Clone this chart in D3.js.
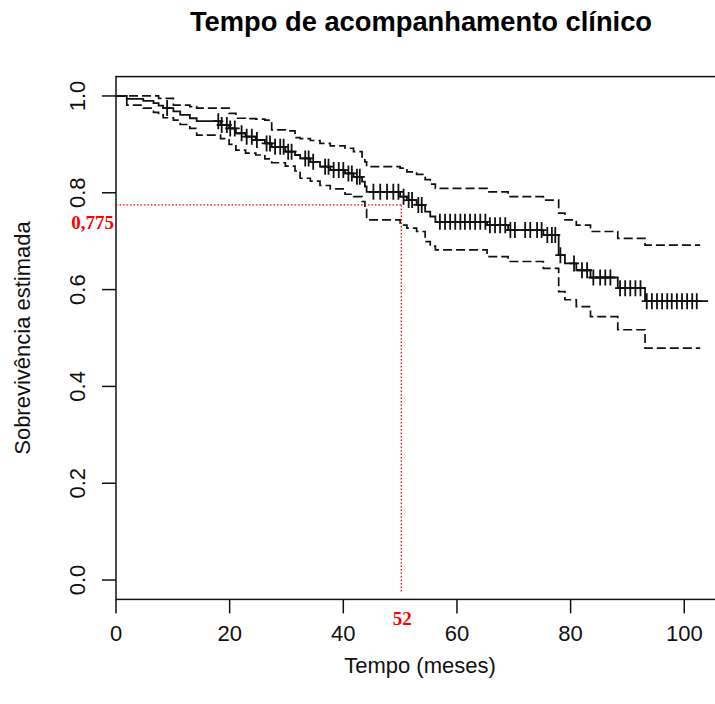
<!DOCTYPE html>
<html lang="pt">
<head>
<meta charset="utf-8">
<title>Tempo de acompanhamento clínico</title>
<script src="https://d3js.org/d3.v7.min.js"></script>
<style>
  body { margin: 0; background: #fff; }
  svg { display: block; }
  .axis-text { font-family: "Liberation Sans", Arial, sans-serif; font-size: 22px; fill: #111; }
  .title { font-family: "Liberation Sans", Arial, sans-serif; font-size: 27.3px; font-weight: bold; fill: #000; }
  .annot { font-family: "Liberation Serif", "Times New Roman", serif; font-size: 19px; font-weight: bold; fill: #f00; }
</style>
</head>
<body>
<div id="chart"></div>
<script>
// Kaplan-Meier steps (months, survival)
var eventTimes = [0, 1.9, 4.8, 6.6, 7.5, 8.3, 10.1, 11.3, 13.0, 14.2, 18.4, 19.9, 21.1, 22.8, 24.6, 26.2, 27.4, 29.8,
  31.5, 32.4, 34.2, 35.9, 37.7, 40.3, 41.8, 43.3, 43.8, 44.1, 50.0, 51.2, 52.9, 54.4, 55.3, 56.2, 65.3, 69.0,
  75.2, 77.9, 79.0, 81.0, 83.5, 88.3, 93.1];
var survival = [1.0, 0.994, 0.990, 0.985, 0.980, 0.975, 0.968, 0.961, 0.954, 0.948, 0.940, 0.933, 0.923, 0.916,
  0.909, 0.902, 0.895, 0.885, 0.878, 0.871, 0.864, 0.854, 0.847, 0.840, 0.833, 0.823, 0.813, 0.802, 0.792,
  0.785, 0.775, 0.761, 0.751, 0.740, 0.733, 0.723, 0.713, 0.671, 0.654, 0.640, 0.625, 0.603, 0.576];
var upperCI = [1.0, 1.0, 1.0, 1.0, 0.995, 0.995, 0.981, 0.981, 0.978, 0.975, 0.975, 0.964, 0.954, 0.953, 0.952,
  0.950, 0.930, 0.928, 0.914, 0.912, 0.908, 0.902, 0.897, 0.892, 0.885, 0.874, 0.864, 0.854, 0.851, 0.843,
  0.838, 0.827, 0.818, 0.809, 0.802, 0.792, 0.785, 0.758, 0.744, 0.733, 0.720, 0.706, 0.692];
var lowerCI = [1.0, 0.981, 0.975, 0.966, 0.961, 0.955, 0.950, 0.941, 0.933, 0.919, 0.912, 0.900, 0.888, 0.882,
  0.878, 0.870, 0.862, 0.855, 0.845, 0.830, 0.824, 0.815, 0.808, 0.797, 0.792, 0.782, 0.765, 0.744, 0.733,
  0.727, 0.720, 0.699, 0.690, 0.682, 0.668, 0.658, 0.644, 0.596, 0.579, 0.565, 0.544, 0.517, 0.479];
var lastTime = 104.2;
var ciLastTime = 102.8;

// censored observations (months)
var censorTimes = [9.0, 18.0, 18.6, 19.5, 20.1, 20.9, 22.1, 23.0, 23.9, 24.8, 26.5, 27.1, 28.0, 28.9, 29.5,
  30.3, 30.9, 33.3, 33.9, 34.7, 36.8, 37.4, 38.3, 39.2, 40.0, 40.9, 41.5, 42.4, 42.9, 45.3, 46.5, 47.7,
  48.8, 49.7, 50.6, 51.5, 52.1, 53.2, 53.8, 57.0, 57.9, 58.8, 59.7, 60.6, 61.4, 62.3, 63.2, 64.1, 65.0,
  65.8, 66.7, 67.6, 68.5, 69.4, 70.2, 72.0, 72.9, 74.1, 74.9, 75.9, 76.7, 77.3, 78.2, 80.6, 82.0, 82.9,
  84.0, 85.2, 86.1, 87.0, 88.7, 89.6, 90.5, 91.4, 92.3, 93.4, 94.3, 95.2, 96.1, 97.0, 97.8, 98.7, 99.6,
  100.5, 101.4, 102.2];

var xTicks = [0, 20, 40, 60, 80, 100];
var yTicks = [0.0, 0.2, 0.4, 0.6, 0.8, 1.0];

// red annotation
var medianTime = 50.2, medianSurv = 0.775;
var medianTimeLabel = "52", medianSurvLabel = "0,775";

var W = 715, H = 704;
var box = {left: 116, right: 732, top: 76.6, bottom: 599.4};

var svg = d3.select("#chart").append("svg")
  .attr("width", W).attr("height", H);

var x = d3.scaleLinear().domain([0, 108.4]).range([box.left, box.right]);
var y = d3.scaleLinear().domain([-0.04, 1.04]).range([box.bottom, box.top]);

// title
svg.append("text").attr("class", "title")
  .attr("x", (box.left + box.right) / 2 - 3).attr("y", 31)
  .attr("text-anchor", "middle")
  .text("Tempo de acompanhamento clínico");

// box
svg.append("rect")
  .attr("x", box.left).attr("y", box.top)
  .attr("width", box.right - box.left).attr("height", box.bottom - box.top)
  .attr("fill", "none").attr("stroke", "#111").attr("stroke-width", 1.5);

// x axis
var xAxis = svg.append("g");
xAxis.selectAll("line").data(xTicks).enter().append("line")
  .attr("x1", function(d) { return x(d); }).attr("x2", function(d) { return x(d); })
  .attr("y1", box.bottom).attr("y2", box.bottom + 14)
  .attr("stroke", "#111").attr("stroke-width", 1.5);
xAxis.selectAll("text").data(xTicks).enter().append("text")
  .attr("class", "axis-text")
  .attr("x", function(d) { return x(d); }).attr("y", 641)
  .attr("text-anchor", "middle")
  .text(function(d) { return d; });

// y axis
var yAxis = svg.append("g");
yAxis.selectAll("line").data(yTicks).enter().append("line")
  .attr("x1", box.left - 14).attr("x2", box.left)
  .attr("y1", function(d) { return y(d); }).attr("y2", function(d) { return y(d); })
  .attr("stroke", "#111").attr("stroke-width", 1.5);
yAxis.selectAll("text").data(yTicks).enter().append("text")
  .attr("class", "axis-text")
  .attr("transform", function(d) { return "translate(85," + y(d) + ") rotate(-90)"; })
  .attr("text-anchor", "middle")
  .text(function(d) { return d.toFixed(1); });

// axis titles
svg.append("text").attr("class", "axis-text")
  .attr("x", (box.left + box.right) / 2 - 4).attr("y", 673)
  .attr("text-anchor", "middle")
  .text("Tempo (meses)");
svg.append("text").attr("class", "axis-text")
  .attr("transform", "translate(30," + ((box.top + box.bottom) / 2) + ") rotate(-90)")
  .attr("text-anchor", "middle")
  .text("Sobrevivência estimada");

// step curves
var stepLine = d3.line()
  .x(function(d) { return x(d[0]); })
  .y(function(d) { return y(d[1]); })
  .curve(d3.curveStepAfter);

function steps(values, end) {
  var pts = eventTimes.map(function(t, i) { return [t, values[i]]; });
  pts.push([end, values[values.length - 1]]);
  return pts;
}

var plot = svg.append("g");

plot.append("path").datum(steps(upperCI, ciLastTime))
  .attr("d", stepLine).attr("fill", "none")
  .attr("stroke", "#111").attr("stroke-width", 1.7).attr("stroke-dasharray", "9,4");
plot.append("path").datum(steps(lowerCI, ciLastTime))
  .attr("d", stepLine).attr("fill", "none")
  .attr("stroke", "#111").attr("stroke-width", 1.7).attr("stroke-dasharray", "9,4");
plot.append("path").datum(steps(survival, lastTime))
  .attr("d", stepLine).attr("fill", "none")
  .attr("stroke", "#111").attr("stroke-width", 1.8);

// censor marks "+"
function survAt(t) {
  var i = d3.bisectRight(eventTimes, t) - 1;
  return survival[Math.max(0, i)];
}
plot.selectAll(".cens").data(censorTimes).enter().append("path")
  .attr("class", "cens")
  .attr("d", function(t) {
    var cx = x(t), cy = y(survAt(t));
    return "M" + (cx - 5) + "," + cy + "H" + (cx + 5) + "M" + cx + "," + (cy - 8) + "V" + (cy + 8);
  })
  .attr("stroke", "#111").attr("stroke-width", 1.8).attr("fill", "none");

// red dotted reference lines
svg.append("line")
  .attr("x1", x(0)).attr("x2", x(medianTime))
  .attr("y1", y(medianSurv)).attr("y2", y(medianSurv))
  .attr("stroke", "#f00").attr("stroke-width", 1.3).attr("stroke-dasharray", "1.5,2");
svg.append("line")
  .attr("x1", x(medianTime)).attr("x2", x(medianTime))
  .attr("y1", y(medianSurv)).attr("y2", y(-0.025))
  .attr("stroke", "#f00").attr("stroke-width", 1.3).attr("stroke-dasharray", "1.5,2");

svg.append("text").attr("class", "annot")
  .attr("x", x(0) - 2).attr("y", y(medianSurv) + 24)
  .attr("text-anchor", "end")
  .text(medianSurvLabel);
svg.append("text").attr("class", "annot")
  .attr("x", x(medianTime) + 1).attr("y", 625)
  .attr("text-anchor", "middle")
  .text(medianTimeLabel);
</script>
</body>
</html>
